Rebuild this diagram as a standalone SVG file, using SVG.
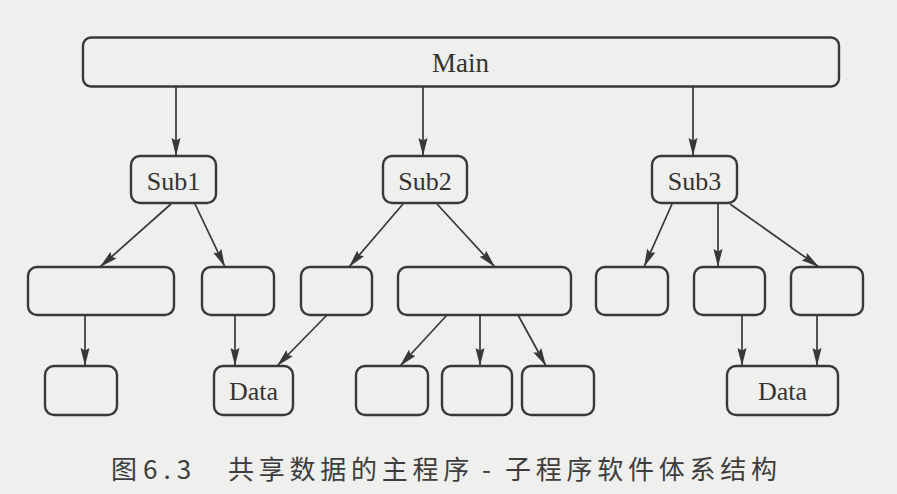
<svg xmlns="http://www.w3.org/2000/svg" width="897" height="494" viewBox="0 0 897 494">
  <style>
    .box { fill: #efefed; stroke: #383838; stroke-width: 2.4; }
    .lbl { font-family: "Liberation Serif", "Times New Roman", serif; font-size: 26px; fill: #333; text-anchor: middle; }
    .edge { stroke: #383838; stroke-width: 1.7; fill: none; marker-end: url(#arr); }
    .cap { font-family: "Noto Sans CJK SC", "Noto Sans", sans-serif; font-size: 26px; fill: #3d3d3d; }
  </style>
  <defs>
    <marker id="arr" markerUnits="userSpaceOnUse" markerWidth="19" markerHeight="10" refX="18" refY="4.5" orient="auto">
      <path d="M0,0 L18,4.5 L0,9 L2.5,4.5 Z" fill="#383838"/>
    </marker>
  </defs>
  <rect width="897" height="494" fill="#efefed"/>

  <g id="connectors">
    <line class="edge" x1="176" y1="87" x2="176" y2="156"/>
    <line class="edge" x1="423" y1="87" x2="423" y2="156"/>
    <line class="edge" x1="693" y1="87" x2="693" y2="156"/>

    <line class="edge" x1="171" y1="204" x2="100" y2="267"/>
    <line class="edge" x1="195" y1="204" x2="225" y2="267"/>
    <line class="edge" x1="403" y1="204" x2="349" y2="267"/>
    <line class="edge" x1="437" y1="204" x2="495" y2="267"/>
    <line class="edge" x1="672" y1="204" x2="644" y2="267"/>
    <line class="edge" x1="718" y1="204" x2="718" y2="267"/>
    <line class="edge" x1="730" y1="204" x2="819" y2="267"/>

    <line class="edge" x1="85" y1="315" x2="85" y2="366"/>
    <line class="edge" x1="235" y1="315" x2="235" y2="366"/>
    <line class="edge" x1="327" y1="315" x2="277" y2="366"/>
    <line class="edge" x1="447" y1="315" x2="400" y2="366"/>
    <line class="edge" x1="480" y1="315" x2="480" y2="366"/>
    <line class="edge" x1="518" y1="315" x2="546" y2="366"/>
    <line class="edge" x1="742" y1="315" x2="742" y2="366"/>
    <line class="edge" x1="817" y1="315" x2="817" y2="366"/>
  </g>

  <g id="main">
    <rect class="box" x="83" y="37.5" width="756" height="49" rx="8"/>
    <text class="lbl" x="460.5" y="72" style="font-size:27px">Main</text>
  </g>
  <g id="sub1">
    <rect class="box" x="131" y="156" width="85" height="47" rx="9"/>
    <text class="lbl" x="173.5" y="190">Sub1</text>
  </g>
  <g id="sub2">
    <rect class="box" x="383" y="156" width="84" height="47" rx="9"/>
    <text class="lbl" x="425" y="190">Sub2</text>
  </g>
  <g id="sub3">
    <rect class="box" x="652" y="156" width="85" height="47" rx="9"/>
    <text class="lbl" x="694.5" y="190">Sub3</text>
  </g>

  <g id="box-a"><rect class="box" x="28" y="267" width="146" height="48" rx="9"/></g>
  <g id="box-b"><rect class="box" x="202" y="267" width="72" height="48" rx="9"/></g>
  <g id="box-c"><rect class="box" x="301" y="267" width="71" height="48" rx="9"/></g>
  <g id="box-d"><rect class="box" x="398" y="267" width="173" height="48" rx="9"/></g>
  <g id="box-e"><rect class="box" x="596" y="267" width="72" height="48" rx="9"/></g>
  <g id="box-f"><rect class="box" x="694" y="267" width="71" height="48" rx="9"/></g>
  <g id="box-g"><rect class="box" x="791" y="267" width="72" height="48" rx="9"/></g>

  <g id="box-h"><rect class="box" x="45" y="366" width="72" height="49" rx="9"/></g>
  <g id="data1">
    <rect class="box" x="214" y="366" width="79" height="49" rx="9"/>
    <text class="lbl" x="253.5" y="400">Data</text>
  </g>
  <g id="box-i"><rect class="box" x="356" y="366" width="72" height="49" rx="9"/></g>
  <g id="box-j"><rect class="box" x="442" y="366" width="70" height="49" rx="9"/></g>
  <g id="box-k"><rect class="box" x="522" y="366" width="72" height="49" rx="9"/></g>
  <g id="data2">
    <rect class="box" x="727" y="366" width="111" height="49" rx="9"/>
    <text class="lbl" x="782.5" y="400">Data</text>
  </g>

  <text class="cap" y="479"><tspan x="111">图</tspan><tspan x="143" letter-spacing="6">6.3</tspan><tspan x="228" letter-spacing="4.75">共享数据的主程序</tspan><tspan x="482">-</tspan><tspan x="505" letter-spacing="4.75">子程序软件体系结构</tspan></text>
</svg>
